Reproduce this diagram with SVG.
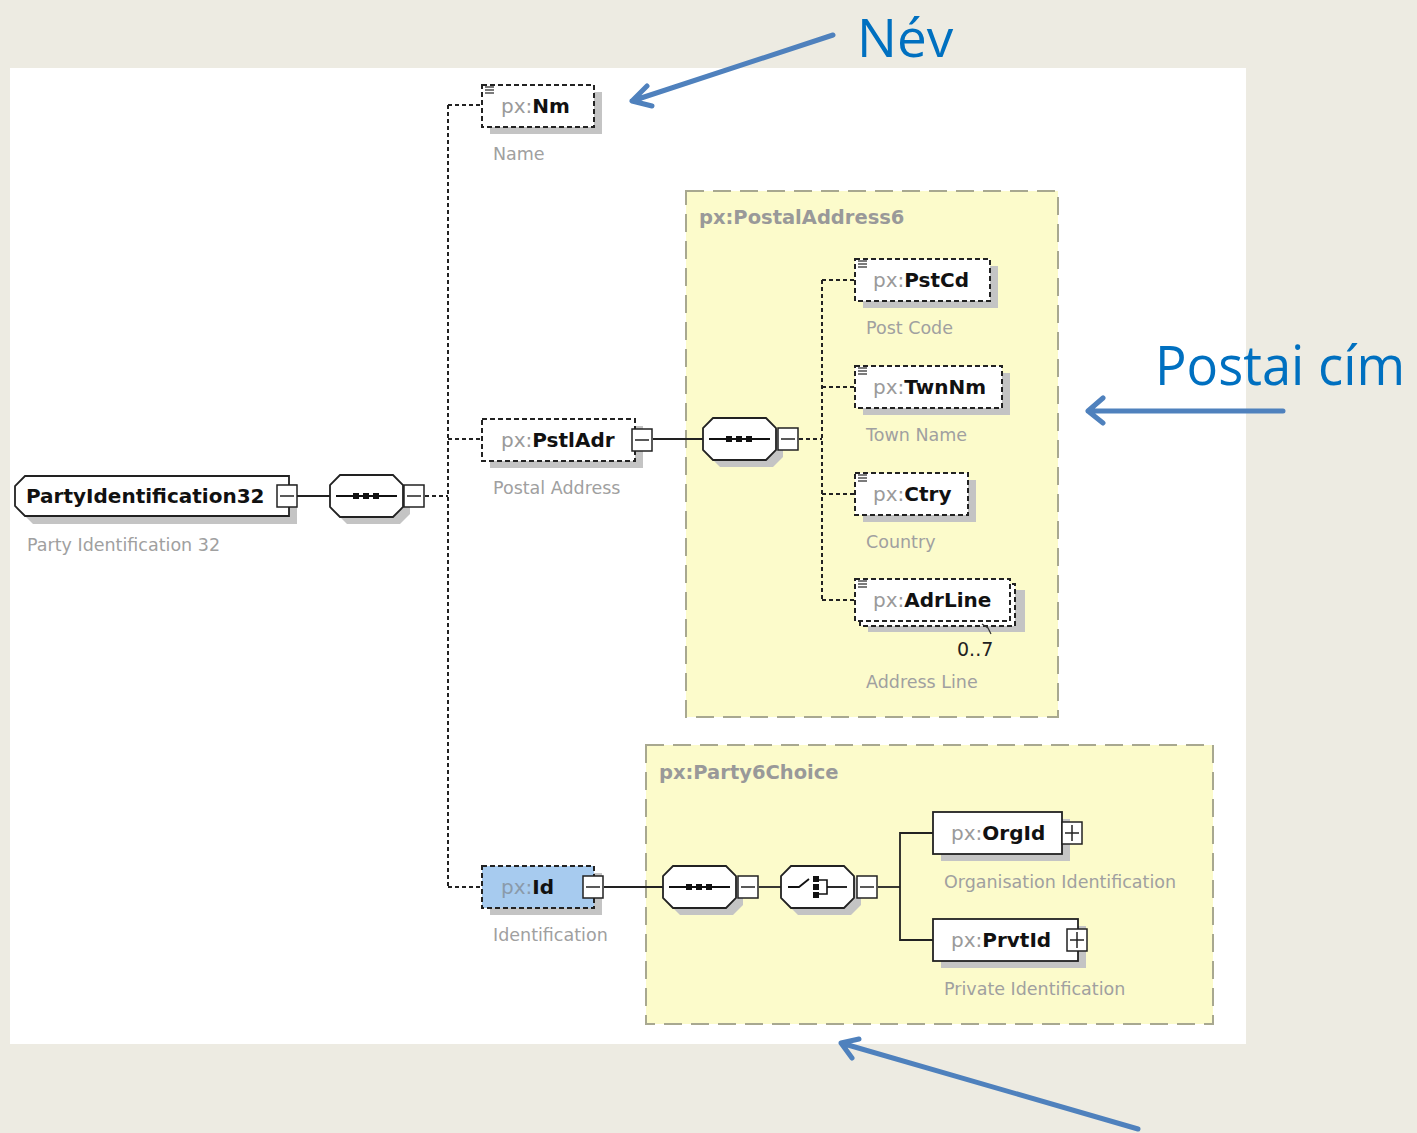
<svg xmlns="http://www.w3.org/2000/svg" width="1417" height="1133" viewBox="0 0 1417 1133">
<defs>
<style>
.nt{font-family:"DejaVu Sans",Verdana,sans-serif;font-size:20px}
.px{fill:#9a9a9a;font-weight:normal}
.nm{fill:#111;font-weight:bold}
.lbl{font-family:"DejaVu Sans",Verdana,sans-serif;font-size:17.5px;fill:#a0a0a0}
.ttl{font-family:"DejaVu Sans",Verdana,sans-serif;font-size:19.5px;font-weight:bold;fill:#999}
.box{fill:#fff;stroke:#222;stroke-width:1.8}
.dbox{fill:#fff;stroke:#222;stroke-width:2;stroke-dasharray:5 3}
.sh{fill:#c4c4c4}
.grp{fill:#fcfbcb;stroke:#a8a890;stroke-width:2;stroke-dasharray:18 9}
.solid{fill:none;stroke:#222;stroke-width:1.8}
.dot{fill:none;stroke:#222;stroke-width:2;stroke-dasharray:4 3}
.ann{fill:none;stroke:#4f81bd;stroke-width:5;stroke-linecap:round;stroke-linejoin:round}
.big{font-family:"Open Sans","Liberation Sans",sans-serif;fill:#0070c0}
.ic{stroke:#333;stroke-width:1.3}
</style>
<g id="minus"><rect x="0" y="0" width="20" height="22" fill="#fff" stroke="#222" stroke-width="1.5"/><line x1="3" y1="11" x2="17" y2="11" stroke="#222" stroke-width="1.5"/></g>
<g id="plus"><rect x="0" y="0" width="20" height="22" fill="#fff" stroke="#222" stroke-width="1.5"/><line x1="3" y1="11" x2="17" y2="11" stroke="#222" stroke-width="1.5"/><line x1="10" y1="3" x2="10" y2="19" stroke="#222" stroke-width="1.5"/></g>
<g id="lines"><line class="ic" x1="0" y1="1" x2="9" y2="1"/><line class="ic" x1="0" y1="4" x2="9" y2="4"/><line class="ic" x1="0" y1="7" x2="9" y2="7"/></g>
<g id="seq">
<polygon points="10,0 63,0 73,10 73,32 63,42 10,42 0,32 0,10" transform="translate(7,7)" class="sh"/>
<polygon points="10,0 63,0 73,10 73,32 63,42 10,42 0,32 0,10" class="box"/>
<line x1="6" y1="21" x2="67" y2="21" stroke="#111" stroke-width="1.8"/>
<rect x="23" y="18" width="6" height="6" fill="#111"/><rect x="33" y="18" width="6" height="6" fill="#111"/><rect x="43" y="18" width="6" height="6" fill="#111"/>
</g>
<g id="cho">
<polygon points="10,0 63,0 73,10 73,32 63,42 10,42 0,32 0,10" transform="translate(7,7)" class="sh"/>
<polygon points="10,0 63,0 73,10 73,32 63,42 10,42 0,32 0,10" class="box"/>
<polyline points="7,21 18,21 28,13" fill="none" stroke="#111" stroke-width="1.8"/>
<rect x="32" y="10" width="6" height="6" fill="#111"/><rect x="32" y="18" width="6" height="6" fill="#111"/><rect x="32" y="26" width="6" height="6" fill="#111"/>
<polyline points="38,14 46,14 46,28 38,28" fill="none" stroke="#111" stroke-width="1.6"/>
<line x1="46" y1="21" x2="66" y2="21" stroke="#111" stroke-width="1.8"/>
</g>
</defs>
<rect x="0" y="0" width="1417" height="1133" fill="#edebe2"/>
<rect x="10" y="68" width="1236" height="976" fill="#fff"/>

<g id="group-PostalAddress6">
<rect class="grp" x="686" y="191" width="372" height="526"/>
<text class="ttl" x="699" y="224">px:PostalAddress6</text>
</g>
<g id="group-Party6Choice">
<rect class="grp" x="646" y="745" width="567" height="279"/>
<text class="ttl" x="659" y="779">px:Party6Choice</text>
</g>

<g id="connectors">
<line class="solid" x1="297" y1="496" x2="330" y2="496"/>
<line class="dot" x1="425" y1="496" x2="448" y2="496"/>
<line class="dot" x1="448" y1="105" x2="448" y2="887"/>
<line class="dot" x1="448" y1="105" x2="482" y2="105"/>
<line class="dot" x1="448" y1="439" x2="482" y2="439"/>
<line class="dot" x1="448" y1="887" x2="482" y2="887"/>
<line class="solid" x1="653" y1="439" x2="703" y2="439"/>
<line class="dot" x1="799" y1="439" x2="822" y2="439"/>
<line class="dot" x1="822" y1="280" x2="822" y2="600"/>
<line class="dot" x1="822" y1="280" x2="855" y2="280"/>
<line class="dot" x1="822" y1="387" x2="855" y2="387"/>
<line class="dot" x1="822" y1="494" x2="855" y2="494"/>
<line class="dot" x1="822" y1="600" x2="855" y2="600"/>
<line class="solid" x1="604" y1="887" x2="663" y2="887"/>
<line class="solid" x1="759" y1="887" x2="781" y2="887"/>
<line class="solid" x1="878" y1="887" x2="900" y2="887"/>
<polyline class="solid" points="933,833 900,833 900,940 933,940"/>
</g>

<g id="node-PartyIdentification32">
<polygon points="25,476 289,476 289,516 25,516 15,506 15,486" transform="translate(8,8)" class="sh"/>
<polygon points="25,476 289,476 289,516 25,516 15,506 15,486" class="box"/>
<text class="nt nm" x="26" y="503">PartyIdentification32</text>
<use href="#minus" x="277" y="485"/>
<text class="lbl" x="27" y="551">Party Identification 32</text>
</g>
<g id="node-seq1">
<use href="#seq" x="330" y="475"/>
<use href="#minus" x="404" y="485"/>
</g>

<g id="node-Nm">
<rect class="sh" x="490" y="92" width="112" height="42"/>
<rect class="dbox" x="482" y="85" width="112" height="42"/>
<use href="#lines" x="485" y="86"/>
<text class="nt" x="501" y="113"><tspan class="px">px:</tspan><tspan class="nm">Nm</tspan></text>
<text class="lbl" x="493" y="160">Name</text>
</g>

<g id="node-PstlAdr">
<rect class="sh" x="490" y="426" width="153" height="42"/>
<rect class="dbox" x="482" y="419" width="153" height="42"/>
<text class="nt" x="501" y="447"><tspan class="px">px:</tspan><tspan class="nm">PstlAdr</tspan></text>
<use href="#minus" x="632" y="429"/>
<text class="lbl" x="493" y="494">Postal Address</text>
</g>
<g id="node-seq2">
<use href="#seq" x="703" y="418"/>
<use href="#minus" x="778" y="428"/>
</g>

<g id="node-PstCd">
<rect class="sh" x="863" y="266" width="135" height="42"/>
<rect class="dbox" x="855" y="259" width="135" height="42"/>
<use href="#lines" x="858" y="260"/>
<text class="nt" x="873" y="287"><tspan class="px">px:</tspan><tspan class="nm">PstCd</tspan></text>
<text class="lbl" x="866" y="334">Post Code</text>
</g>
<g id="node-TwnNm">
<rect class="sh" x="863" y="373" width="147" height="42"/>
<rect class="dbox" x="855" y="366" width="147" height="42"/>
<use href="#lines" x="858" y="367"/>
<text class="nt" x="873" y="394"><tspan class="px">px:</tspan><tspan class="nm">TwnNm</tspan></text>
<text class="lbl" x="866" y="441">Town Name</text>
</g>
<g id="node-Ctry">
<rect class="sh" x="863" y="480" width="113" height="42"/>
<rect class="dbox" x="855" y="473" width="113" height="42"/>
<use href="#lines" x="858" y="474"/>
<text class="nt" x="873" y="501"><tspan class="px">px:</tspan><tspan class="nm">Ctry</tspan></text>
<text class="lbl" x="866" y="548">Country</text>
</g>
<g id="node-AdrLine">
<rect class="sh" x="868" y="590" width="157" height="42"/>
<rect class="dbox" x="860" y="584" width="155" height="42"/>
<rect class="dbox" x="855" y="579" width="155" height="42"/>
<use href="#lines" x="858" y="580"/>
<text class="nt" x="873" y="607"><tspan class="px">px:</tspan><tspan class="nm">AdrLine</tspan></text>
<path d="M982,624 L988,628 L991,634" fill="none" stroke="#333" stroke-width="1.2"/>
<text class="nt" x="957" y="656" style="font-size:19px;fill:#222">0..7</text>
<text class="lbl" x="866" y="688">Address Line</text>
</g>

<g id="node-Id">
<rect class="sh" x="490" y="873" width="112" height="42"/>
<rect class="dbox" x="482" y="866" width="112" height="42" style="fill:#a7cbef"/>
<text class="nt" x="501" y="894"><tspan class="px" style="fill:#8a9aaa">px:</tspan><tspan class="nm">Id</tspan></text>
<use href="#minus" x="583" y="876"/>
<text class="lbl" x="493" y="941">Identification</text>
</g>
<g id="node-seq3">
<use href="#seq" x="663" y="866"/>
<use href="#minus" x="738" y="876"/>
</g>
<g id="node-choice">
<use href="#cho" x="781" y="866"/>
<use href="#minus" x="857" y="876"/>
</g>

<g id="node-OrgId">
<rect class="sh" x="941" y="819" width="129" height="42"/>
<rect class="box" x="933" y="812" width="129" height="42"/>
<text class="nt" x="951" y="840"><tspan class="px">px:</tspan><tspan class="nm">OrgId</tspan></text>
<use href="#plus" x="1062" y="822"/>
<text class="lbl" x="944" y="888">Organisation Identification</text>
</g>
<g id="node-PrvtId">
<rect class="sh" x="941" y="926" width="145" height="42"/>
<rect class="box" x="933" y="919" width="145" height="42"/>
<text class="nt" x="951" y="947"><tspan class="px">px:</tspan><tspan class="nm">PrvtId</tspan></text>
<use href="#plus" x="1067" y="929"/>
<text class="lbl" x="944" y="995">Private Identification</text>
</g>

<g id="annotations">
<path class="ann" d="M833,35 L632,101 M647,86 L632,101 L652,106"/>
<text class="big" x="857" y="57" font-size="53">Név</text>
<path class="ann" d="M1283,411 L1088,411 M1103,398 L1088,411 L1103,423"/>
<text class="big" x="1155" y="385" font-size="55" textLength="250" lengthAdjust="spacingAndGlyphs">Postai cím</text>
<path class="ann" d="M1138,1129 L841,1043 M859,1039 L841,1043 L852,1058"/>
</g>
</svg>
